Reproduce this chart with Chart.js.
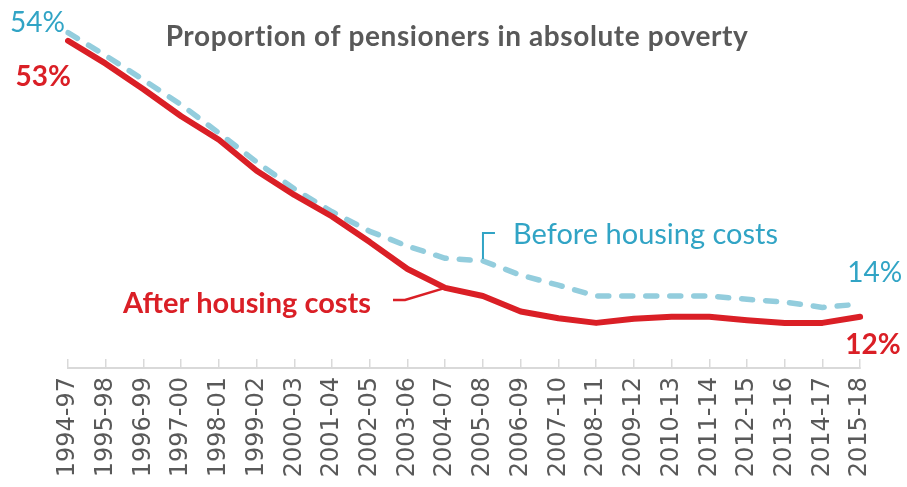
<!DOCTYPE html>
<html>
<head>
<meta charset="utf-8">
<script src="https://cdn.jsdelivr.net/npm/chart.js@4.4.0/dist/chart.umd.min.js"></script>
<style>
  html, body { margin: 0; padding: 0; background: #fff; }
  #wrap { width: 907px; height: 487px; }
</style>
</head>
<body>
<div id="wrap"><canvas id="povertyChart"></canvas></div>
<script>
/* #region  DATA */
const years = [
  "1994-97", "1995-98", "1996-99", "1997-00", "1998-01", "1999-02",
  "2000-03", "2001-04", "2002-05", "2003-06", "2004-07", "2005-08",
  "2006-09", "2007-10", "2008-11", "2009-12", "2010-13", "2011-14",
  "2012-15", "2013-16", "2014-17", "2015-18",
];
const beforeHousing = [
  54.3, 50.9, 47.3, 43.6, 39.4, 35.1, 31.1, 27.7, 24.8, 22.6, 20.8,
  20.4, 18.3, 16.8, 15.2, 15.2, 15.2, 15.2, 14.7, 14.3, 13.5, 14.0,
];
const afterHousing = [
  53.1, 49.7, 45.9, 41.9, 38.4, 33.8, 30.2, 27.0, 23.2, 19.2, 16.4,
  15.2, 12.9, 11.9, 11.2, 11.8, 12.1, 12.1, 11.6, 11.2, 11.2, 12.1,
];
/* #endregion */

const RED = "#DA1F26";
const BLUE_LINE = "#93CDDD";
const BLUE_TEXT = "#31A4C5";
const GREY = "#595959";
const FONT = "Lato";

/* #region  TITLE, END LABELS AND SERIES NAMES */
const annotations = {
  id: "annotations",
  afterDatasetsDraw(chart) {
    const { ctx } = chart;
    const x = chart.scales.x;
    const y = chart.scales.y;
    const last = years.length - 1;
    const px = (i) => x.getPixelForValue(i);

    ctx.save();
    ctx.textBaseline = "alphabetic";

    // title
    ctx.fillStyle = GREY;
    ctx.font = `bold 28px ${FONT}`;
    ctx.letterSpacing = "0.6px";
    ctx.textAlign = "center";
    ctx.fillText("Proportion of pensioners in absolute poverty", 457, 46);
    ctx.letterSpacing = "0px";

    // start / end values
    const bx0 = px(0), by0 = y.getPixelForValue(beforeHousing[0]);
    const ay0 = y.getPixelForValue(afterHousing[0]);
    const bxn = px(last), byn = y.getPixelForValue(beforeHousing[last]);
    const ayn = y.getPixelForValue(afterHousing[last]);

    ctx.textAlign = "right";
    ctx.fillStyle = BLUE_TEXT;
    ctx.font = `28px ${FONT}`;
    ctx.fillText(Math.round(beforeHousing[0]) + "%", bx0 - 3, by0 - 1);
    ctx.fillStyle = RED;
    ctx.font = `bold 28px ${FONT}`;
    ctx.fillText(Math.round(afterHousing[0]) + "%", bx0 + 3, ay0 + 45);

    ctx.textAlign = "left";
    ctx.fillStyle = BLUE_TEXT;
    ctx.font = `28px ${FONT}`;
    ctx.fillText(Math.round(beforeHousing[last]) + "%", bxn - 13, byn - 22);
    ctx.fillStyle = RED;
    ctx.font = `bold 28px ${FONT}`;
    ctx.fillText(Math.round(afterHousing[last]) + "%", bxn - 15, ayn + 37);

    // series names with leader lines
    const bi = 11, ai = 10;
    ctx.lineWidth = 2;
    ctx.strokeStyle = BLUE_TEXT;
    ctx.beginPath();
    ctx.moveTo(px(bi), y.getPixelForValue(beforeHousing[bi]) - 2);
    ctx.lineTo(px(bi), 233);
    ctx.lineTo(px(bi) + 12, 233);
    ctx.stroke();
    ctx.fillStyle = BLUE_TEXT;
    ctx.font = `29px ${FONT}`;
    ctx.fillText("Before housing costs", 513, 244);

    ctx.strokeStyle = RED;
    ctx.lineWidth = 2.5;
    ctx.beginPath();
    ctx.moveTo(px(ai), y.getPixelForValue(afterHousing[ai]));
    ctx.lineTo(405, 300);
    ctx.lineTo(393, 300);
    ctx.stroke();
    ctx.fillStyle = RED;
    ctx.font = `bold 29px ${FONT}`;
    ctx.fillText("After housing costs", 123, 313);

    ctx.restore();
  },
};
/* #endregion */

/* #region  CHART */
const povertyChart = new Chart(document.getElementById("povertyChart"), {
  type: "line",
  data: {
    labels: years,
    datasets: [
      {
        label: "After housing costs",
        data: afterHousing,
        borderColor: RED,
        borderWidth: 6,
        borderJoinStyle: "round",
        borderCapStyle: "round",
        pointRadius: 0,
        tension: 0,
      },
      {
        label: "Before housing costs",
        data: beforeHousing,
        borderColor: BLUE_LINE,
        borderWidth: 5.5,
        borderDash: [11, 13],
        borderJoinStyle: "round",
        borderCapStyle: "round",
        pointRadius: 0,
        tension: 0,
      },
    ],
  },
  options: {
    responsive: true,
    maintainAspectRatio: false,
    animation: false,
    layout: { padding: { left: 68, right: 44, top: 28, bottom: 0 } },
    plugins: {
      legend: { display: false },
      tooltip: { enabled: false },
    },
    scales: {
      x: {
        grid: {
          drawOnChartArea: false,
          tickLength: -9,
          color: "#D9D9D9",
          lineWidth: 1.5,
        },
        border: { color: "#D9D9D9", width: 2 },
        ticks: {
          autoSkip: false,
          minRotation: 90,
          maxRotation: 90,
          padding: 18,
          color: GREY,
          font: { family: "DejaVu Sans", size: 24 },
        },
        afterFit: (scale) => {
          scale.height = 119;
        },
      },
      y: {
        display: false,
        min: 4.5,
        max: 55,
      },
    },
  },
  plugins: [annotations],
});
/* #endregion */
</script>
</body>
</html>
